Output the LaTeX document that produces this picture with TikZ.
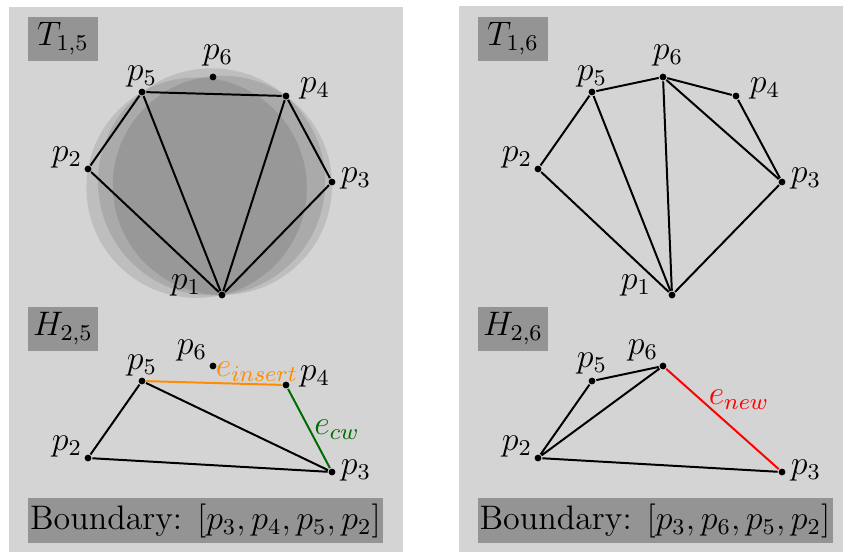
\documentclass[tikz,border=0pt]{standalone}
\usepackage{xcolor}
\definecolor{panelgray}{gray}{0.83}
\definecolor{boxgray}{gray}{0.58}
\definecolor{cwgreen}{rgb}{0,0.42,0}
\definecolor{insorange}{rgb}{1,0.55,0}
\tikzset{
  dot/.style={circle,fill=black,inner sep=0pt,minimum size=2.4pt},
  tag/.style={fill=boxgray,inner sep=0pt,minimum width=24.7pt,minimum height=15.5pt},
  bound/.style={fill=boxgray,inner sep=0pt,minimum width=125.3pt,minimum height=15.9pt},
  disc/.style={fill=black,fill opacity=0.1}
}
\begin{document}
\begin{tikzpicture}[x=0.353pt,y=-0.353pt,line width=0.7pt,font=\large]
  \useasboundingbox (0,0) rectangle (843,552);
  \fill[panelgray] (9,7) rectangle (403,552);
  \fill[panelgray] (459,6) rectangle (843,552);
  % circumcircles of the triangles in T_{1,5}
  \fill[disc] (211.6,181.9) circle[radius=40.1pt];
  \fill[disc] (196.6,187.7) circle[radius=38.9pt];
  \fill[disc] (222.4,185.3) circle[radius=38.7pt];
  % T_{1,5}
  \node[dot] (tl1) at (222,295) {};
  \node[dot] (tl2) at (88,169) {};
  \node[dot] (tl3) at (332,182) {};
  \node[dot] (tl4) at (286,96) {};
  \node[dot] (tl5) at (142,92) {};
  \node[dot] (tl6) at (213,77) {};
  \draw (tl2) -- (tl5) -- (tl4) -- (tl3) -- (tl1) -- (tl2);
  \draw (tl1) -- (tl5);
  \draw (tl1) -- (tl4);
  \node[tag] (ttl) at (63,39) {$T_{1,5}$};
  \node (ltl1) at (186,285) {$p_1$};
  \node (ltl2) at (67,157) {$p_2$};
  \node (ltl3) at (356,178) {$p_3$};
  \node (ltl4) at (315,88) {$p_4$};
  \node (ltl5) at (142,76) {$p_5$};
  \node (ltl6) at (218,55) {$p_6$};
  % T_{1,6}
  \node[dot] (tr1) at (672,295) {};
  \node[dot] (tr2) at (538,169) {};
  \node[dot] (tr3) at (782,182) {};
  \node[dot] (tr4) at (736,96) {};
  \node[dot] (tr5) at (592,92) {};
  \node[dot] (tr6) at (663,77) {};
  \draw (tr2) -- (tr5) -- (tr6) -- (tr4) -- (tr3) -- (tr1) -- (tr2);
  \draw (tr1) -- (tr5);
  \draw (tr1) -- (tr6);
  \draw (tr6) -- (tr3);
  \node[tag] (ttr) at (513,39) {$T_{1,6}$};
  \node (ltr1) at (636,285) {$p_1$};
  \node (ltr2) at (517,157) {$p_2$};
  \node (ltr3) at (806,178) {$p_3$};
  \node (ltr4) at (765,88) {$p_4$};
  \node (ltr5) at (592,76) {$p_5$};
  \node (ltr6) at (668,55) {$p_6$};
  % H_{2,5}
  \node[dot] (hl2) at (88,458) {};
  \node[dot] (hl3) at (332,472) {};
  \node[dot] (hl4) at (286,385) {};
  \node[dot] (hl5) at (142,381) {};
  \node[dot] (hl6) at (213,366) {};
  \draw (hl3) -- (hl2) -- (hl5) -- (hl3);
  \draw[insorange] (hl5) -- (hl4);
  \draw[cwgreen] (hl4) -- (hl3);
  \node[tag] (thl) at (63,329) {$H_{2,5}$};
  \node (lhl2) at (67,446) {$p_2$};
  \node (lhl3) at (356,470) {$p_3$};
  \node (lhl4) at (315,376) {$p_4$};
  \node (lhl5) at (142,365) {$p_5$};
  \node (lhl6) at (192,350) {$p_6$};
  \node[text=insorange] (eins) at (257,372) {$e_{insert}$};
  \node[text=cwgreen] (ecw) at (337,430) {$e_{cw}$};
  \node[bound] (bl) at (205.5,520.5) {Boundary: $[p_3,p_4,p_5,p_2]$};
  % H_{2,6}
  \node[dot] (hr2) at (538,458) {};
  \node[dot] (hr3) at (782,472) {};
  \node[dot] (hr5) at (592,381) {};
  \node[dot] (hr6) at (663,366) {};
  \draw (hr3) -- (hr2) -- (hr5) -- (hr6) -- (hr2);
  \draw[red] (hr6) -- (hr3);
  \node[tag] (thr) at (513,329) {$H_{2,6}$};
  \node (lhr2) at (517,446) {$p_2$};
  \node (lhr3) at (806,470) {$p_3$};
  \node (lhr5) at (592,363) {$p_5$};
  \node (lhr6) at (643,350) {$p_6$};
  \node[text=red] (enew) at (739,400) {$e_{new}$};
  \node[bound] (br) at (655,520.5) {Boundary: $[p_3,p_6,p_5,p_2]$};
\end{tikzpicture}
\end{document}
